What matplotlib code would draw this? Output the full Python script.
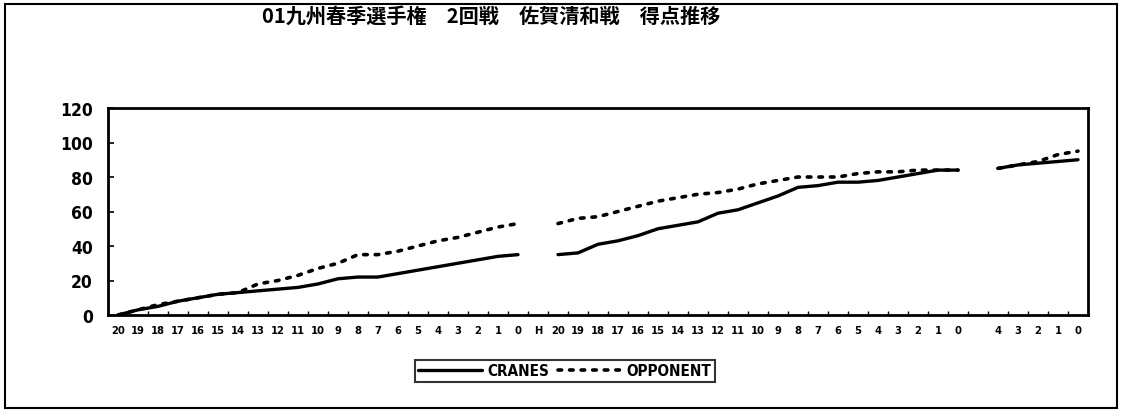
import numpy as np
import matplotlib
matplotlib.use("Agg")
import matplotlib.pyplot as plt
from matplotlib.patches import Rectangle

title = "01九州春季選手権　2回戦　佐賀清和戦　得点推移"
tick_labels = [str(v) for v in range(20, -1, -1)] + ["H"] + \
              [str(v) for v in range(20, -1, -1)] + [""] + \
              [str(v) for v in range(4, -1, -1)]

nan = np.nan
cranes = [0, 3, 5, 8, 10, 12, 13, 14, 15, 16, 18, 21, 22, 22, 24, 26, 28, 30, 32, 34, 35,
          nan,
          35, 36, 41, 43, 46, 50, 52, 54, 59, 61, 65, 69, 74, 75, 77, 77, 78, 80, 82, 84, 84,
          nan,
          85, 87, 88, 89, 90]
opponent = [0, 3, 6, 8, 10, 12, 13, 18, 20, 23, 27, 30, 35, 35, 37, 40, 43, 45, 48, 51, 53,
            nan,
            53, 56, 57, 60, 63, 66, 68, 70, 71, 73, 76, 78, 80, 80, 80, 82, 83, 83, 84, 84, 84,
            nan,
            85, 87, 89, 93, 95]
series_names = ["CRANES", "OPPONENT"]
y_ticks = [0, 20, 40, 60, 80, 100, 120]

fam = 'DejaVu Sans'
fig = plt.figure(figsize=(11.21, 4.14), dpi=100)
fig.patch.set_facecolor('white')
ax = fig.add_axes([108/1121, 1-316/414, (1088-108)/1121, (316-109)/414])

x = np.arange(len(tick_labels))
ax.plot(x, cranes, color='black', lw=2.4, solid_capstyle='round', label=series_names[0])
ax.plot(x, opponent, color='black', lw=2.6, linestyle=(0, (1.0, 2.2)),
        dash_capstyle='round', label=series_names[1])

ax.set_xlim(-0.5, len(tick_labels) - 0.5)
ax.set_ylim(0, 120)
ax.set_yticks(y_ticks)
ax.set_yticklabels([str(v) for v in y_ticks], fontfamily=fam, fontstretch='condensed',
                   fontweight='bold', fontsize=12.5)
ax.set_xticks(x)
ax.set_xticklabels(tick_labels, fontfamily=fam, fontstretch='condensed',
                   fontweight='bold', fontsize=8)
ax.set_xticks(np.arange(len(tick_labels) + 1) - 0.5, minor=True)
ax.tick_params(axis='x', which='major', length=0, pad=7)
ax.tick_params(axis='x', which='minor', length=3, direction='in', width=1)
ax.tick_params(axis='y', length=4, direction='in', width=1.2, pad=11)
for s in ax.spines.values():
    s.set_linewidth(2.0)

fig.text(491/1121, 1-16/414, title, ha='center', va='center', fontsize=14.5,
         fontweight='bold', family=['Noto Sans CJK JP', 'DejaVu Sans'])

leg = ax.legend(loc='center', bbox_to_anchor=(565/1121, 1-372/414), bbox_transform=fig.transFigure,
                ncol=2, frameon=True, fancybox=False, edgecolor='black', handlelength=4.2,
                columnspacing=0.6, handletextpad=0.3, borderpad=0.2,
                prop={'family': fam, 'stretch': 'condensed', 'weight': 'bold', 'size': 11})
leg.get_frame().set_linewidth(1.5)

fig.patches.append(Rectangle((5/1121, 1-409/414), (1117-5)/1121, (409-5)/414,
                             transform=fig.transFigure, fill=False, edgecolor='black', lw=1.5))

fig.savefig('out.png', dpi=100, facecolor='white')
